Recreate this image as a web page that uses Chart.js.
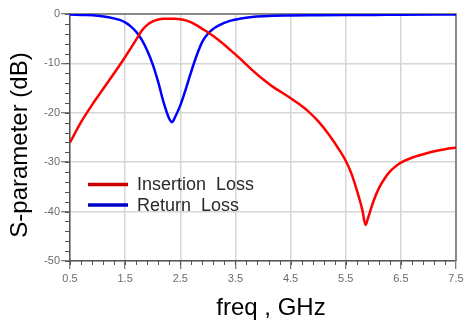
<!DOCTYPE html>
<html>
<head>
<meta charset="utf-8">
<script src="https://cdn.jsdelivr.net/npm/chart.js@4/dist/chart.umd.min.js"></script>
<style>
  html, body { margin: 0; padding: 0; background: #fff; }
  #wrap { width: 469px; height: 327px; position: relative; }
</style>
</head>
<body>
<div id="wrap"><canvas id="chart"></canvas></div>
<script>
// ─── Data ───
const xMajorTicks = [0.5, 1.5, 2.5, 3.5, 4.5, 5.5, 6.5, 7.5];
const yMajorTicks = [0, -10, -20, -30, -40, -50];

const insFreq = [0.5, 0.7, 0.9, 1.1, 1.3, 1.5, 1.7, 1.8, 1.9, 2.0, 2.1, 2.2, 2.4, 2.5, 2.6, 2.7, 2.8, 2.9, 3.0,
  3.2, 3.4, 3.6, 3.8, 4.0, 4.2, 4.4, 4.6, 4.8, 5.0, 5.2, 5.4, 5.5, 5.6, 5.7, 5.8, 5.86, 5.9, 6.0, 6.1, 6.2,
  6.3, 6.4, 6.5, 6.7, 7.0, 7.2, 7.5];
const insLoss = [-26, -21.9, -18.4, -15.2, -12.0, -8.7, -5.2, -3.4, -2.2, -1.5, -1.1, -0.95, -0.95, -1.05, -1.3, -1.7, -2.3, -3.0, -3.7,
  -5.3, -7.2, -9.2, -11.3, -13.2, -14.9, -16.3, -17.8, -19.5, -21.7, -24.5, -27.8, -29.7, -32.2, -35.6, -39.6, -42.7, -41.5, -38, -35.3, -33.4,
  -31.9, -30.9, -30.1, -29.1, -28.1, -27.6, -27];

const retFreq = [0.5, 0.8, 1.0, 1.2, 1.4, 1.5, 1.6, 1.7, 1.8, 1.9, 2.0, 2.1, 2.2, 2.3, 2.35, 2.4, 2.5, 2.6, 2.7,
  2.8, 2.9, 3.0, 3.1, 3.2, 3.4, 3.6, 3.8, 4.0, 4.4, 5.0, 6.0, 6.5, 7.5];
const retLoss = [-0.1, -0.2, -0.35, -0.65, -1.2, -1.7, -2.5, -3.6, -5.2, -7.4, -10.2, -13.8, -18, -21.2, -21.9, -21, -18.5, -15.2, -11.6,
  -8.3, -5.6, -4.0, -3.0, -2.3, -1.4, -0.9, -0.6, -0.45, -0.3, -0.25, -0.2, -0.15, -0.1];

const seriesNames = ['Insertion  Loss', 'Return  Loss'];
const seriesColors = ['#ff0000', '#0000ff'];
const legendColors = ['#cc0000', '#0000cc'];

const toPoints = (xs, ys) => xs.map((x, i) => ({ x, y: ys[i] }));

// ─── Decorations: frame, minor ticks, legend, axis titles ───
const decorations = {
  id: 'decorations',
  beforeDatasetsDraw(chart) {
    const { ctx, chartArea: a, scales: { x, y } } = chart;
    ctx.save();
    // frame (top / right)
    ctx.strokeStyle = '#6e6e6e';
    ctx.lineWidth = 1.5;
    ctx.beginPath();
    ctx.moveTo(a.left, a.top);
    ctx.lineTo(a.right, a.top);
    ctx.lineTo(a.right, a.bottom);
    ctx.stroke();
    // minor ticks
    ctx.strokeStyle = '#555';
    ctx.lineWidth = 1;
    ctx.beginPath();
    for (let v = 0.5; v < 7.5; v += 0.2) {
      const px = Math.round(x.getPixelForValue(v)) + 0.5;
      ctx.moveTo(px, a.bottom);
      ctx.lineTo(px, a.bottom + 4);
    }
    for (let v = 0; v >= -50; v -= 2) {
      const py = Math.round(y.getPixelForValue(v)) + 0.5;
      ctx.moveTo(a.left, py);
      ctx.lineTo(a.left - 5, py);
    }
    ctx.stroke();
    ctx.restore();
  },
  afterDraw(chart) {
    const { ctx } = chart;
    ctx.save();
    // legend
    const rows = [184.5, 205];
    ctx.font = '18px "Liberation Sans", Arial, sans-serif';
    ctx.textBaseline = 'middle';
    ctx.textAlign = 'left';
    rows.forEach((ry, i) => {
      ctx.strokeStyle = legendColors[i];
      ctx.lineWidth = 3.5;
      ctx.beginPath();
      ctx.moveTo(88, ry);
      ctx.lineTo(128, ry);
      ctx.stroke();
      ctx.fillStyle = '#2a2a2a';
      ctx.fillText(seriesNames[i], 137, ry + 1);
    });
    // axis titles
    ctx.fillStyle = '#000';
    ctx.font = '24px "Liberation Sans", Arial, sans-serif';
    ctx.textBaseline = 'alphabetic';
    ctx.textAlign = 'center';
    ctx.fillText('freq , GHz', 271, 315);
    ctx.translate(27, 145);
    ctx.rotate(-Math.PI / 2);
    ctx.fillText('S-parameter (dB)', 0, 0);
    ctx.restore();
  }
};

const tickFont = { family: '"Liberation Sans", Arial, sans-serif', size: 11 };

new Chart(document.getElementById('chart'), {
  type: 'line',
  data: {
    datasets: [
      {
        label: seriesNames[0],
        data: toPoints(insFreq, insLoss),
        borderColor: seriesColors[0],
        borderWidth: 2.5,
        pointRadius: 0,
        cubicInterpolationMode: 'monotone',
        fill: false
      },
      {
        label: seriesNames[1],
        data: toPoints(retFreq, retLoss),
        borderColor: seriesColors[1],
        borderWidth: 2.5,
        pointRadius: 0,
        cubicInterpolationMode: 'monotone',
        fill: false
      }
    ]
  },
  options: {
    responsive: true,
    maintainAspectRatio: false,
    animation: false,
    layout: { padding: { left: 0, top: 14, right: 13, bottom: 0 } },
    plugins: { legend: { display: false }, tooltip: { enabled: false } },
    scales: {
      x: {
        type: 'linear',
        min: 0.5,
        max: 7.5,
        afterBuildTicks: s => { s.ticks = xMajorTicks.map(value => ({ value })); },
        afterFit: s => { s.height = 66; },
        ticks: { color: '#6b6b6b', font: tickFont, padding: 3, maxRotation: 0, autoSkip: false,
          callback: v => v.toFixed(1) },
        grid: { color: '#d6d6d6', lineWidth: 1.5, tickColor: '#555', tickLength: 8, tickWidth: 1 },
        border: { color: '#555', width: 1.5 }
      },
      y: {
        min: -50,
        max: 0,
        afterBuildTicks: s => { s.ticks = yMajorTicks.map(value => ({ value })); },
        afterFit: s => { s.width = 70; },
        ticks: { color: '#6b6b6b', font: tickFont, padding: 1, autoSkip: false },
        grid: { color: '#d6d6d6', lineWidth: 1.5, tickColor: '#555', tickLength: 9, tickWidth: 1 },
        border: { color: '#555', width: 1.5 }
      }
    }
  },
  plugins: [decorations]
});
</script>
</body>
</html>
